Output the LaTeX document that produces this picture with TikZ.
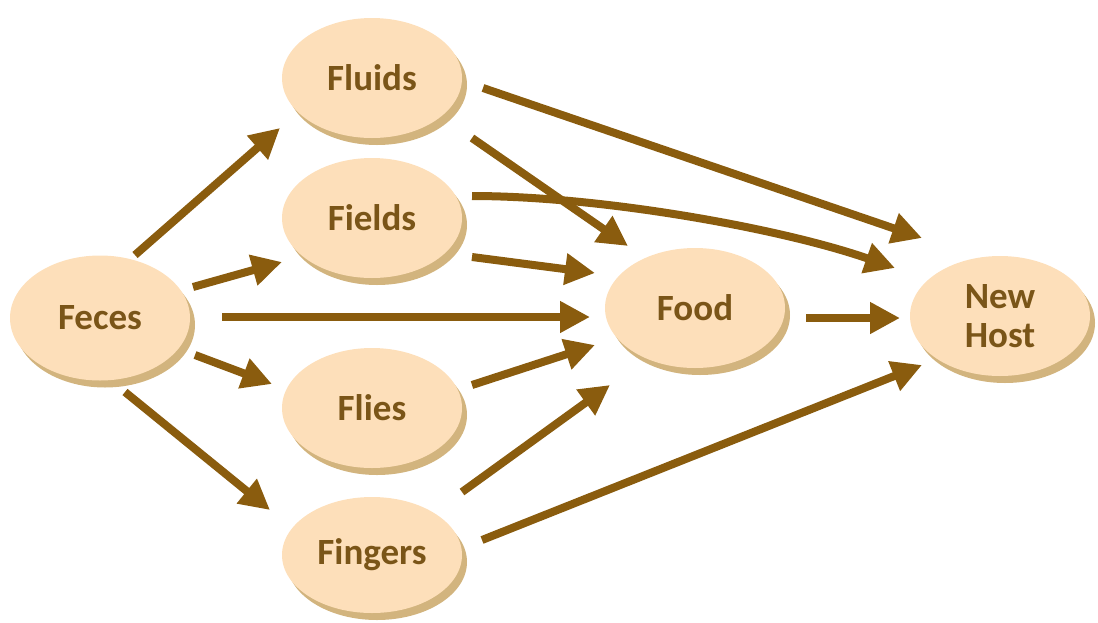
\documentclass[tikz,border=0pt]{standalone}
\usepackage{fontspec}
\setmainfont{Carlito}
\usetikzlibrary{arrows.meta,shapes.geometric,shadows}
\definecolor{nodefill}{HTML}{FDDFBA}
\definecolor{shadowc}{HTML}{D2B47E}
\definecolor{txtc}{HTML}{7A5518}
\definecolor{arrc}{HTML}{8A5C0E}
\tikzset{
  blob/.style={ellipse, fill=nodefill, minimum width=180pt, minimum height=120pt, inner sep=0pt,
    drop shadow={shadow xshift=5pt, shadow yshift=-7pt, fill=shadowc, opacity=1},
    text=txtc, font=\fontsize{37}{39}\selectfont\bfseries, align=center},
  flow/.style={draw=arrc, line width=8pt, -{Triangle[length=30pt,width=30pt]}}
}
\begin{document}
\begin{tikzpicture}[x=1pt,y=-1pt]
\useasboundingbox (0,0) rectangle (1098,622);
\node[blob, minimum width=180pt, minimum height=125pt] (feces) at (100,318) {Feces};
\node[blob] (fluids) at (372,78) {Fluids};
\node[blob] (fields) at (372,218) {Fields};
\node[blob] (flies) at (372,408) {Flies};
\node[blob, minimum height=116pt] (fingers) at (372,555) {Fingers};
\node[blob] (food) at (695,308) {Food};
\node[blob] (host) at (1000,316) {New\\Host};
% from feces
\draw[flow] ([shift={(35,-63)}]feces.center) -- ([shift={(-92,50)}]fluids.center);
\draw[flow] ([shift={(93,-31)}]feces.center) -- ([shift={(-90,44)}]fields.center);
\draw[flow] ([shift={(122,-1)}]feces.center) -- ([shift={(-105,9)}]food.center);
\draw[flow] ([shift={(95,37)}]feces.center) -- ([shift={(-100,-24)}]flies.center);
\draw[flow] ([shift={(25,74)}]feces.center) -- ([shift={(-102,-45)}]fingers.center);
% from fluids
\draw[flow] ([shift={(111,10)}]fluids.center) -- ([shift={(-78,-78)}]host.center);
\draw[flow] ([shift={(100,60)}]fluids.center) -- ([shift={(-67,-62)}]food.center);
% from fields
\draw[flow] ([shift={(100,-22)}]fields.center) .. controls (600,196) and (780,228) .. ([shift={(-105,-48)}]host.center);
\draw[flow] ([shift={(100,39)}]fields.center) -- ([shift={(-100,-35)}]food.center);
% from flies
\draw[flow] ([shift={(100,-23)}]flies.center) -- ([shift={(-100,37)}]food.center);
% from fingers
\draw[flow] ([shift={(90,-63)}]fingers.center) -- ([shift={(-85,77)}]food.center);
\draw[flow] ([shift={(110,-15)}]fingers.center) -- ([shift={(-78,49)}]host.center);
% food to host
\draw[flow] ([shift={(111,10)}]food.center) -- ([shift={(-100,2)}]host.center);
\end{tikzpicture}
\end{document}
